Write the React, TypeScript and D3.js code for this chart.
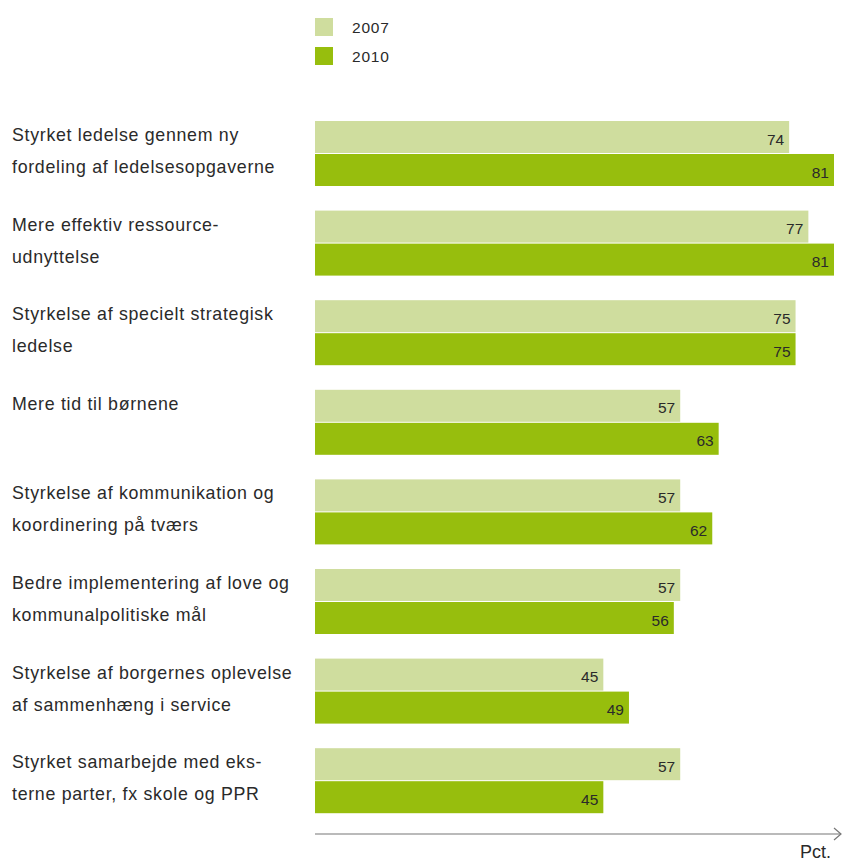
import React from "react";
import * as d3 from "d3";

const categories: string[][] = [
  ["Styrket ledelse gennem ny", "fordeling af ledelsesopgaverne"],
  ["Mere effektiv ressource-", "udnyttelse"],
  ["Styrkelse af specielt strategisk", "ledelse"],
  ["Mere tid til børnene"],
  ["Styrkelse af kommunikation og", "koordinering på tværs"],
  ["Bedre implementering af love og", "kommunalpolitiske mål"],
  ["Styrkelse af borgernes oplevelse", "af sammenhæng i service"],
  ["Styrket samarbejde med eks-", "terne parter, fx skole og PPR"],
];
const values2007 = [74, 77, 75, 57, 57, 57, 45, 57];
const values2010 = [81, 81, 75, 63, 62, 56, 49, 45];
const seriesNames = ["2007", "2010"];
const axisLabel = "Pct.";

const W = 842;
const H = 862;
const colors = ["#cfdd9e", "#97be0d"];
const textColor = "#2a2a2a";
const font = "'Liberation Sans', Arial, sans-serif";

export default function App() {
  const x = d3.scaleLinear().domain([0, 81]).range([315, 834]);
  const groupPitch = 89.6;
  const y = d3
    .scaleLinear()
    .domain([0, 1])
    .range([121, 121 + groupPitch]);
  const barH = 32;
  const axisY = 834;

  return (
    <svg
      width={W}
      height={H}
      style={{ position: "absolute", left: 0, top: 0, background: "#fff" }}
      fontFamily={font}
    >
      {/* legend */}
      {seriesNames.map((s, i) => (
        <g key={s}>
          <rect x={315} y={18 + i * 29} width={18} height={18} fill={colors[i]} />
          <text
            x={352}
            y={33 + i * 29}
            fontSize={15.5}
            letterSpacing={0.8}
            fill={textColor}
          >
            {s}
          </text>
        </g>
      ))}
      {categories.map((lines, i) => {
        const top = y(i);
        const vals = [values2007[i], values2010[i]];
        return (
          <g key={i}>
            {lines.map((l, j) => (
              <text
                key={j}
                x={12}
                y={top + 20 + j * 32}
                fontSize={17.8}
                letterSpacing={0.7}
                fill={textColor}
              >
                {l}
              </text>
            ))}
            {vals.map((v, k) => {
              const by = top + k * (barH + 1);
              return (
                <g key={k}>
                  <rect
                    x={x(0)}
                    y={by}
                    width={x(v) - x(0)}
                    height={barH}
                    fill={colors[k]}
                  />
                  <text
                    x={x(v) - 5}
                    y={by + 23.5}
                    fontSize={15.5}
                    textAnchor="end"
                    fill={textColor}
                  >
                    {v}
                  </text>
                </g>
              );
            })}
          </g>
        );
      })}
      {/* axis */}
      <line x1={315} x2={841} y1={axisY} y2={axisY} stroke="#777" strokeWidth={1.2} />
      <polyline
        points={`834,${axisY - 6} 841,${axisY} 834,${axisY + 6}`}
        fill="none"
        stroke="#777"
        strokeWidth={1.2}
      />
      <text x={831} y={858} fontSize={18} textAnchor="end" fill={textColor}>
        {axisLabel}
      </text>
    </svg>
  );
}
